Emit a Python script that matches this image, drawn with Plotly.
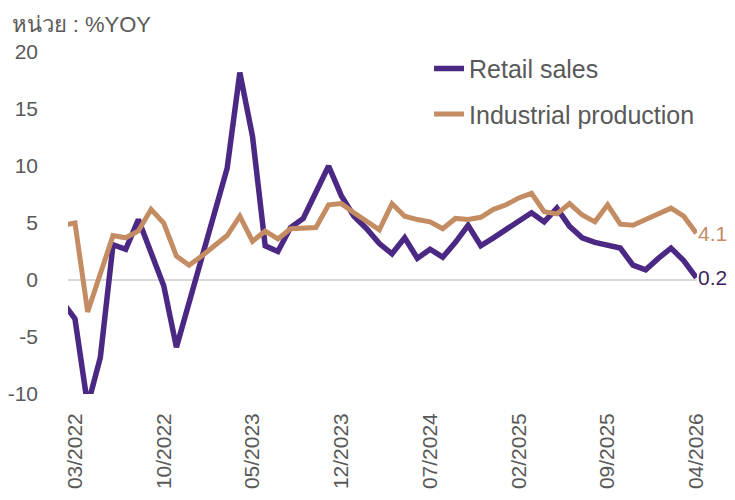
import plotly.graph_objects as go

months = [
    "02/2022", "03/2022", "04/2022", "05/2022", "06/2022", "07/2022", "08/2022",
    "09/2022", "10/2022", "11/2022", "12/2022",
    "01/2023", "02/2023", "03/2023", "04/2023", "05/2023", "06/2023", "07/2023",
    "08/2023", "09/2023", "10/2023", "11/2023", "12/2023",
    "01/2024", "02/2024", "03/2024", "04/2024", "05/2024", "06/2024", "07/2024",
    "08/2024", "09/2024", "10/2024", "11/2024", "12/2024",
    "01/2025", "02/2025", "03/2025", "04/2025", "05/2025", "06/2025", "07/2025",
    "08/2025", "09/2025", "10/2025", "11/2025", "12/2025",
    "01/2026", "02/2026", "03/2026", "04/2026",
]

retail_sales = [
    -1.9, -3.4, -11.0, -6.8, 3.1, 2.7, 5.3, 2.5, -0.5, -5.9, -2.0,
    1.9, 5.8, 9.8, 18.2, 12.6, 3.0, 2.5, 4.6, 5.4, 7.7, 10.0, 7.4,
    5.6, 4.5, 3.2, 2.3, 3.7, 1.9, 2.7, 2.0, 3.3, 4.8, 3.0, 3.7,
    4.4, 5.1, 5.9, 5.1, 6.3, 4.7, 3.7, 3.3, 3.0, 2.8, 1.3, 0.9,
    1.9, 2.8, 1.7, 0.2,
]

industrial_production = [
    4.8, 5.0, -2.8, 0.7, 3.9, 3.7, 4.3, 6.2, 5.0, 2.1, 1.3,
    2.1, 3.0, 3.9, 5.6, 3.4, 4.3, 3.6, 4.5, 4.5, 4.6, 6.6, 6.7,
    5.9, 5.2, 4.4, 6.7, 5.6, 5.3, 5.1, 4.5, 5.4, 5.3, 5.5, 6.2,
    6.6, 7.2, 7.6, 6.0, 5.8, 6.7, 5.7, 5.1, 6.6, 4.9, 4.8, 5.3,
    5.8, 6.3, 5.6, 4.1,
]

tick_labels = ["03/2022", "10/2022", "05/2023", "12/2023",
               "07/2024", "02/2025", "09/2025", "04/2026"]
y_ticks = [-10, -5, 0, 5, 10, 15, 20]
y_tick_text = ["-10", "-5", "0", "5", "10", "15", "20"]

PURPLE = "#4B2884"
TAN = "#C48C63"
GRAY = "#595959"
FONT = "Liberation Sans, Arial, sans-serif"

fig = go.Figure()
fig.add_trace(go.Scatter(
    x=months, y=retail_sales, mode="lines", name="Retail sales",
    line=dict(color=PURPLE, width=5.5), legendgroup="a",
))
fig.add_trace(go.Scatter(
    x=months, y=industrial_production, mode="lines", name="Industrial production",
    line=dict(color=TAN, width=5), legendgroup="b",
))

fig.add_annotation(x=months[-1], y=industrial_production[-1],
                   text=f"{industrial_production[-1]:.1f}", showarrow=False,
                   xanchor="left", xshift=1, borderpad=0,
                   font=dict(size=21, color=TAN, family=FONT))
fig.add_annotation(x=months[-1], y=retail_sales[-1],
                   text=f"{retail_sales[-1]:.1f}", showarrow=False,
                   xanchor="left", xshift=1, borderpad=0,
                   font=dict(size=21, color="#3B1F5E", family=FONT))

fig.update_layout(
    width=735, height=500,
    margin=dict(l=60, r=46, t=44, b=114),
    paper_bgcolor="white", plot_bgcolor="white",
    font=dict(family=FONT, color=GRAY),
    title=dict(text="หน่วย : %YOY", x=0.005, xref="container", xanchor="left",
               y=0.968, yref="container", yanchor="middle",
               font=dict(size=22, color=GRAY, family="Liberation Sans, Noto Sans, sans-serif")),
    showlegend=True,
    legend=dict(x=0.574, y=1.018, xanchor="left", yanchor="top",
                font=dict(size=25, color=GRAY, family=FONT),
                bgcolor="rgba(0,0,0,0)", traceorder="grouped", tracegroupgap=10),
    xaxis=dict(type="category", range=[0.45, 50.05], tickmode="array",
               tickvals=tick_labels, ticktext=tick_labels, tickangle=-90,
               showgrid=False, zeroline=False, showline=False, ticks="",
               ticklabelstandoff=14, automargin=False,
               tickfont=dict(size=21, color=GRAY, family=FONT)),
    yaxis=dict(range=[-10, 20], tickmode="array", tickvals=y_ticks, ticktext=y_tick_text,
               showgrid=False, zeroline=True, zerolinecolor="#D9D9D9", zerolinewidth=1.5,
               showline=False, ticks="", ticklabelstandoff=29, automargin=False,
               tickfont=dict(size=21, color=GRAY, family=FONT)),
)

fig.write_html("out.html")
